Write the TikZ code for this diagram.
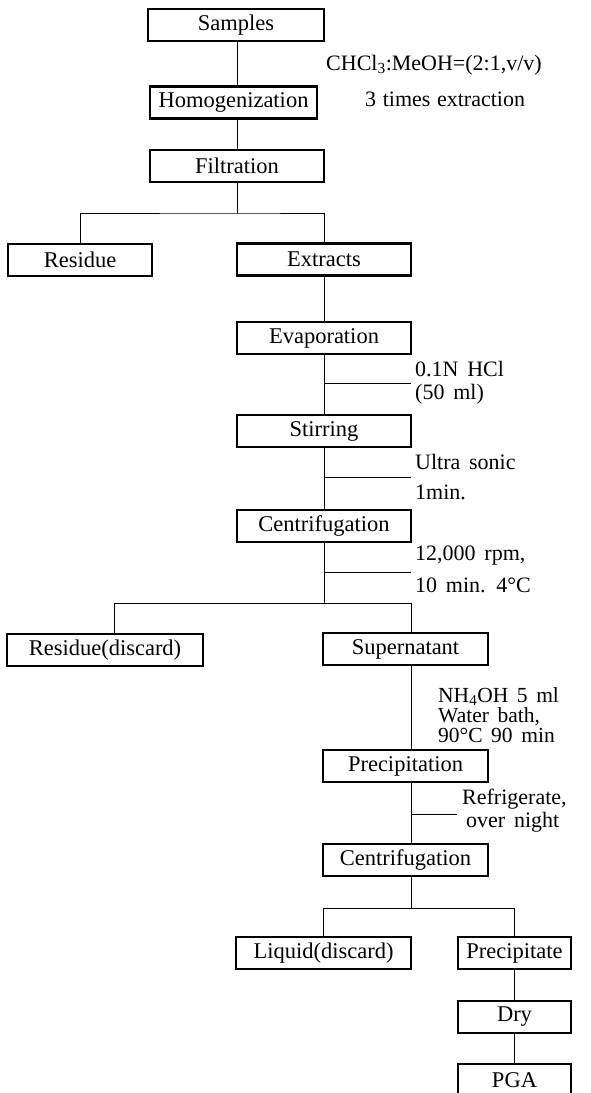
\documentclass[tikz,border=0pt]{standalone}
\usepackage{fontspec}
\setmainfont{Liberation Serif}
\newcommand\degc{°C}
\newcommand\boxfont{\fontsize{22.5}{24}\selectfont}
\newcommand\annfont{\fontsize{22}{24}\selectfont\spaceskip=0.4em\relax}
\newcommand\extfont{\fontsize{22}{24}\selectfont\spaceskip=0.3em\relax}
\newcommand\blockfont{\fontsize{21.5}{20}\selectfont\spaceskip=0.4em\relax}
\begin{document}
\begin{tikzpicture}[x=1pt,y=-1pt,
  stepbox/.style={draw, line width=2.2pt, minimum height=32pt, inner sep=0pt, font=\boxfont},
  link/.style={line width=1pt},
  ann/.style={anchor=west, inner sep=0pt, font=\annfont, text height=1.5ex, text depth=0.25ex}]
\useasboundingbox[fill=white] (0,0) rectangle (590,1093);

% boxes
\node[stepbox, minimum width=176pt] (samples) at (236,25) {Samples};
\node[stepbox, minimum width=167pt] (homog) at (233.5,102.5) {Homogenization};
\node[stepbox, minimum width=174pt] (filt) at (237,166) {Filtration};
\node[stepbox, minimum width=144pt] (residue) at (80,260) {Residue};
\node[stepbox, minimum width=174pt] (extracts) at (324,259.5) {Extracts};
\node[stepbox, minimum width=174pt] (evap) at (324,338) {Evaporation};
\node[stepbox, minimum width=174pt] (stir) at (324,431) {Stirring};
\node[stepbox, minimum width=174pt] (centa) at (324,526) {Centrifugation};
\node[stepbox, minimum width=196pt] (resdisc) at (105,650) {Residue(discard)};
\node[stepbox, minimum width=165pt] (super) at (405.5,649) {Supernatant};
\node[stepbox, minimum width=165pt] (precip) at (405.5,766) {Precipitation};
\node[stepbox, minimum width=165pt] (centb) at (405.5,860) {Centrifugation};
\node[stepbox, minimum width=175pt] (liquid) at (323.5,953) {Liquid(discard)};
\node[stepbox, minimum width=113pt] (pcpt) at (514.5,953) {Precipitate};
\node[stepbox, minimum width=113pt] (dry) at (514.5,1017) {Dry};
\node[stepbox, minimum width=113pt] (pga) at (514.5,1080) {PGA};

% helper coordinates
\coordinate (ba) at (237,213);
\coordinate (ta) at (324,383);
\coordinate (tae) at (411,383);
\coordinate (tb) at (324,477);
\coordinate (tbe) at (411,477);
\coordinate (tc) at (324,572);
\coordinate (tce) at (411,572);
\coordinate (bb) at (324,603);
\coordinate (bbl) at (114,603);
\coordinate (bbr) at (411,603);
\coordinate (td) at (411,814);
\coordinate (tde) at (457,814);
\coordinate (bc) at (411,908);

% connectors
\draw[link] (samples.south -| ba) -- (homog.north -| ba);
\draw[link] (homog.south -| ba) -- (filt.north -| ba);
\draw[link] (filt.south -| ba) -- (ba);
\draw[link] (residue.north) |- (ba) -| (extracts.north);
\draw[link] (extracts) -- (evap);
\draw[link] (evap) -- (stir);
\draw[link] (stir) -- (centa);
\draw[link] (ta) -- (tae);
\draw[link] (tb) -- (tbe);
\draw[link] (tc) -- (tce);
\draw[link] (centa.south) -- (bb);
\draw[link] (bbl |- resdisc.north) -- (bbl) -- (bbr) -- (bbr |- super.north);
\draw[link] (bbr |- super.south) -- (bbr |- precip.north);
\draw[link] (bbr |- precip.south) -- (bbr |- centb.north);
\draw[link] (td) -- (tde);
\draw[link] (bc |- centb.south) -- (bc);
\draw[link] (liquid.north) |- (bc) -| (pcpt.north);
\draw[link] (pcpt) -- (dry);
\draw[link] (dry) -- (pga);

% annotations
\node[ann] (n1) at (326,68) {CHCl\textsubscript{3}:MeOH=(2:1,v/v)};
\node[ann, font=\extfont] (n2) at (365,104) {3 times extraction};
\node[ann] (n3) at (415,374) {0.1N HCl};
\node[ann] (n4) at (415,397) {(50 ml)};
\node[ann] (n5) at (415,467) {Ultra sonic};
\node[ann] (n6) at (415,497) {1min.};
\node[ann] (n7) at (415,558) {12,000 rpm,};
\node[ann] (n8) at (415,590) {10 min. 4\degc};
\node[anchor=north west, inner sep=0pt, align=left, font=\blockfont] (n9) at (438,687)
  {NH\textsubscript{4}OH 5 ml\\Water bath,\\90\degc\ 90 min};
\node[ann] (n12) at (462,802) {Refrigerate,};
\node[ann] (n13) at (466,825) {over night};
\end{tikzpicture}
\end{document}
